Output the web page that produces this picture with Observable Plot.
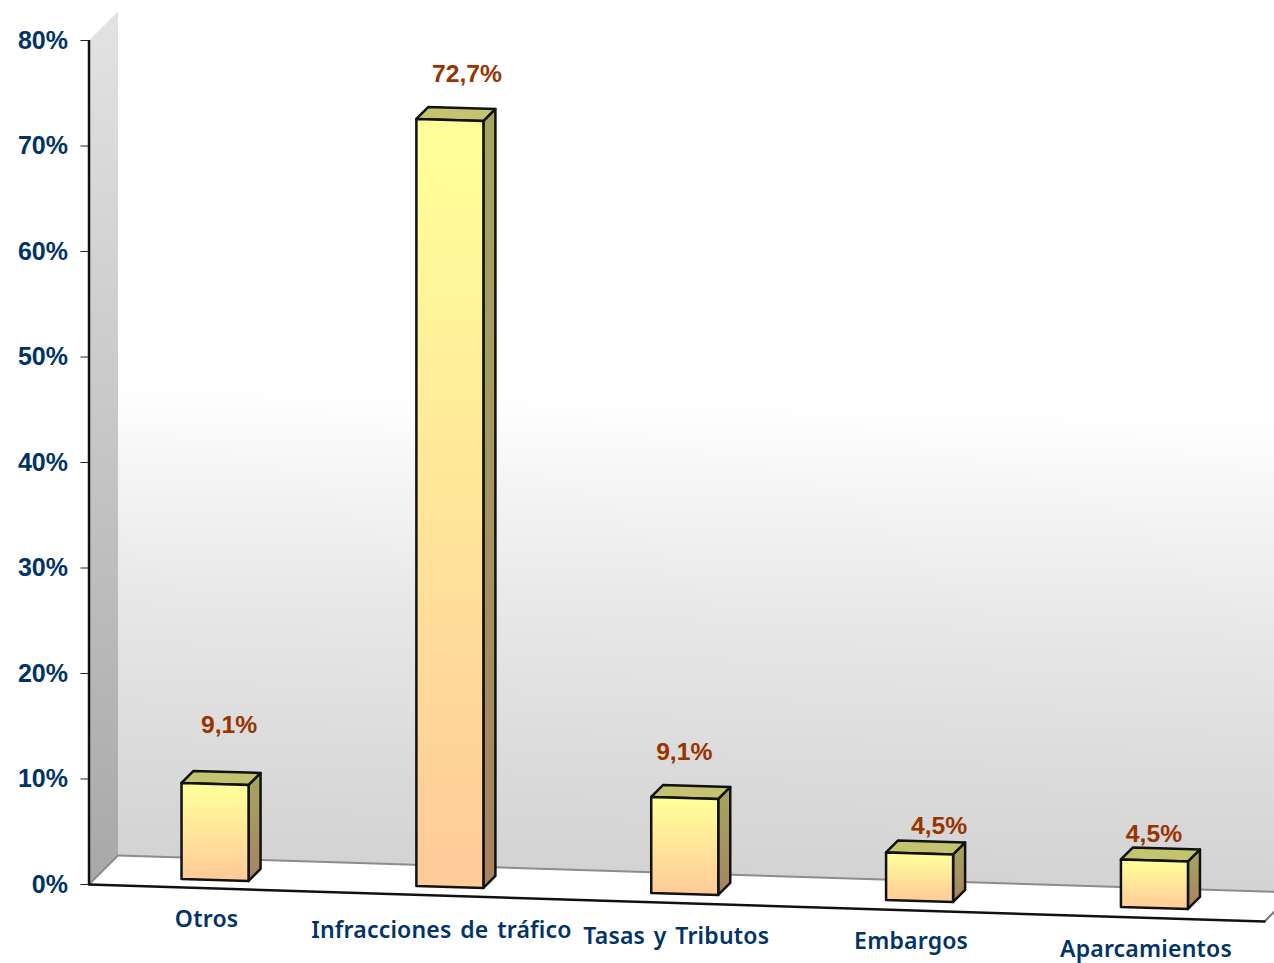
<!DOCTYPE html>
<html>
<head>
<meta charset="utf-8">
<script src="https://cdn.jsdelivr.net/npm/d3@7"></script>
<script src="https://cdn.jsdelivr.net/npm/@observablehq/plot@0.6"></script>
<style>html,body{margin:0;padding:0;background:#fff;overflow:hidden}svg{display:block}svg text{word-spacing:2.5px}</style>
</head>
<body>
<div id="chart"></div>
<script>
// Data
const categories = ["Otros", "Infracciones de tráfico", "Tasas y Tributos", "Embargos", "Aparcamientos"];
const shares = [9.1, 72.7, 9.1, 4.5, 4.5];
const shareLabels = ["9,1%", "72,7%", "9,1%", "4,5%", "4,5%"];
const yTicks = [0, 10, 20, 30, 40, 50, 60, 70, 80];

// Hand placement of the labels in the original (category units, percent points)
const valueNudgeX = [0.06, 0.073, -0.002, 0.083, -0.002];
const valueNudgeY = [5.55, 4.35, 4.35, 2.55, 2.5];
const categoryNudgeY = [-3.75, -4.15, -4.0, -3.85, -3.95];

// 3D geometry (category units, percent points)
const xMin = -0.5367, xMax = 4.5112;
const halfW = 0.1427, barDx = 0.0511, barDy = 1.14;
const wallDx = 0.1235, wallDy = 2.75;
const floorEndX = 4.4687, floorEndY = -3.507;
const wallTop = 80;
const baseY = p => 0.43 - 0.6635 * p;

const front = shares.map((v, i) => [
  {id: i, x: i - halfW, y: baseY(i - halfW)},
  {id: i, x: i + halfW, y: baseY(i + halfW)},
  {id: i, x: i + halfW, y: baseY(i + halfW) + v},
  {id: i, x: i - halfW, y: baseY(i - halfW) + v},
  {id: i, x: i - halfW, y: baseY(i - halfW)}
]).flat();
const side = shares.map((v, i) => [
  {id: i, x: i + halfW, y: baseY(i + halfW)},
  {id: i, x: i + halfW + barDx, y: baseY(i + halfW) + barDy},
  {id: i, x: i + halfW + barDx, y: baseY(i + halfW) + barDy + v},
  {id: i, x: i + halfW, y: baseY(i + halfW) + v},
  {id: i, x: i + halfW, y: baseY(i + halfW)}
]).flat();
const top3d = shares.map((v, i) => [
  {id: i, x: i - halfW, y: baseY(i - halfW) + v},
  {id: i, x: i + halfW, y: baseY(i + halfW) + v},
  {id: i, x: i + halfW + barDx, y: baseY(i + halfW) + barDy + v},
  {id: i, x: i - halfW + barDx, y: baseY(i - halfW) + barDy + v},
  {id: i, x: i - halfW, y: baseY(i - halfW) + v}
]).flat();

const leftWall = [
  {x: xMin, y: 0}, {x: xMin + wallDx, y: wallDy},
  {x: xMin + wallDx, y: wallTop + wallDy}, {x: xMin, y: wallTop}, {x: xMin, y: 0}
];
const backWall = [
  {x: xMin + wallDx, y: wallDy}, {x: floorEndX + wallDx, y: floorEndY + wallDy},
  {x: floorEndX + wallDx, y: wallTop + wallDy}, {x: xMin + wallDx, y: wallTop + wallDy},
  {x: xMin + wallDx, y: wallDy}
];
const floor = [
  {x: xMin, y: 0}, {x: floorEndX, y: floorEndY},
  {x: floorEndX + wallDx, y: floorEndY + wallDy}, {x: xMin + wallDx, y: wallDy}, {x: xMin, y: 0}
];
const floorFront = floor.slice(0, 2);
const floorBack = floor.slice(2, 4);
const floorLeft = [floor[3], floor[0]];
const floorRight = floor.slice(1, 3);

const defs = () => {
  const g = d3.create("svg:g");
  g.html(`<defs>
    <linearGradient id="gFront" x1="0" y1="0" x2="0" y2="1">
      <stop offset="0.04" stop-color="#ffff99"/><stop offset="0.96" stop-color="#ffcc99"/>
    </linearGradient>
    <linearGradient id="gSide" x1="0" y1="0" x2="0" y2="1">
      <stop offset="0.04" stop-color="#a5a55f"/><stop offset="0.96" stop-color="#a68462"/>
    </linearGradient>
    <linearGradient id="gBack" x1="0" y1="0" x2="-0.04" y2="1">
      <stop offset="0.42" stop-color="#ffffff"/><stop offset="0.52" stop-color="#f5f5f5"/><stop offset="0.66" stop-color="#e8e8e8"/><stop offset="0.82" stop-color="#dcdcdc"/><stop offset="0.96" stop-color="#d3d3d3"/>
    </linearGradient>
    <linearGradient id="gLeft" x1="0" y1="0" x2="0" y2="1">
      <stop offset="0" stop-color="#e3e3e3"/><stop offset="1" stop-color="#a8a8a8"/>
    </linearGradient>
  </defs>`);
  return g.node();
};

const navy = "#003366";
const rust = "#993300";
const sansBold = "'Liberation Sans', Arial, sans-serif";
const catFont = "'Noto Sans', sans-serif";

const chart = Plot.plot({
  width: 1274, height: 963,
  marginLeft: 88.5, marginRight: 0, marginTop: 40, marginBottom: 79,
  x: {type: "linear", domain: [xMin, xMax], axis: null},
  y: {type: "linear", domain: [0, 80], axis: null},
  style: {background: "#fff"},
  marks: [
    defs,
    Plot.line(backWall, {x: "x", y: "y", fill: "url(#gBack)", stroke: "none"}),
    Plot.line(leftWall, {x: "x", y: "y", fill: "url(#gLeft)", stroke: "none"}),
    Plot.line(floor, {x: "x", y: "y", fill: "#ffffff", stroke: "none"}),
    Plot.line(floorBack, {x: "x", y: "y", stroke: "#8c8c8c", strokeWidth: 2}),
    Plot.line(floorLeft, {x: "x", y: "y", stroke: "#8c8c8c", strokeWidth: 2}),
    Plot.line(floorRight, {x: "x", y: "y", stroke: "#777", strokeWidth: 2}),
    Plot.line(floorFront, {x: "x", y: "y", stroke: "#111", strokeWidth: 2.5}),
    Plot.ruleX([xMin], {y1: 0, y2: 80, stroke: "#111", strokeWidth: 2.5}),
    Plot.axisY({
      anchor: "left", ticks: yTicks, tickSize: 8, tickPadding: 13,
      tickFormat: d => d + "%", label: null,
      fill: navy, stroke: "#222",
      fontSize: 25, fontWeight: "bold", fontFamily: sansBold
    }),
    Plot.line(side, {x: "x", y: "y", z: "id", fill: "url(#gSide)", stroke: "#111", strokeWidth: 2.5}),
    Plot.line(top3d, {x: "x", y: "y", z: "id", fill: "#c4c470", stroke: "#111", strokeWidth: 2.5}),
    Plot.line(front, {x: "x", y: "y", z: "id", fill: "url(#gFront)", stroke: "#111", strokeWidth: 2.5}),
    Plot.text(shares, {
      x: (d, i) => i + valueNudgeX[i],
      y: (d, i) => baseY(i) + d + valueNudgeY[i],
      text: (d, i) => shareLabels[i],
      fill: rust, fontSize: 24.7, fontWeight: "bold", fontFamily: sansBold
    }),
    Plot.text(categories, {
      x: (d, i) => i - 0.036,
      y: (d, i) => baseY(i) + categoryNudgeY[i],
      text: d => d,
      fill: navy, fontSize: 23, fontWeight: 600, fontFamily: catFont
    })
  ]
});
chart.querySelectorAll("text").forEach(t => { if (categories.includes(t.textContent)) t.style.letterSpacing = "0.2px"; });
document.getElementById("chart").appendChild(chart);
</script>
</body>
</html>
